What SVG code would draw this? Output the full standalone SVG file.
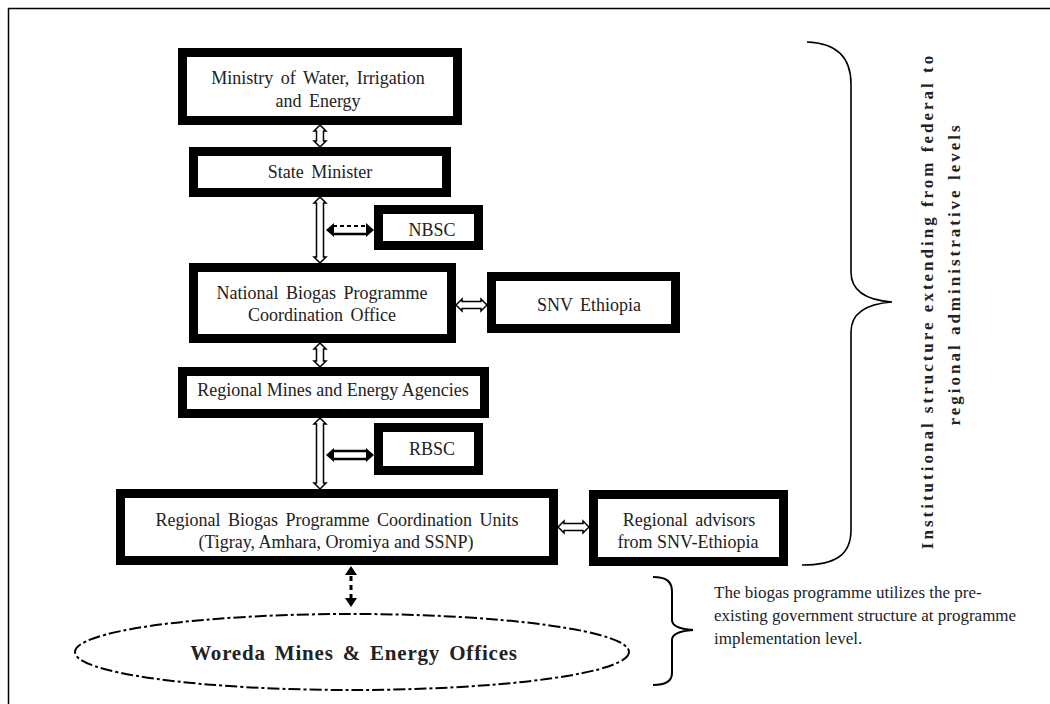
<svg xmlns="http://www.w3.org/2000/svg" width="1050" height="704" viewBox="0 0 1050 704">
<style>
.box{fill:#fff;stroke:#000;stroke-width:9}
.t{font-family:"Liberation Serif","Times New Roman",serif;font-size:18px;fill:#222;text-anchor:middle;word-spacing:3px}
.tb{font-family:"Liberation Serif","Times New Roman",serif;font-weight:bold;fill:#222;text-anchor:middle}
.side{font-family:"Liberation Serif","Times New Roman",serif;font-size:17px;fill:#222}
.ha{fill:#fff;stroke:#000;stroke-width:1.5}
.ln{stroke:#000;fill:none}
.head{fill:#000}
</style>
<rect width="1050" height="704" fill="#fff"/>
<path d="M8.5,704 V8.5 H1050" class="ln" stroke-width="1.5" stroke="#444"/>

<g id="ministry"><rect class="box" x="182.5" y="52.5" width="275" height="68"/>
<text class="t" x="318" y="84">Ministry of Water, Irrigation</text>
<text class="t" x="318" y="107">and Energy</text></g>

<g id="state-minister"><rect class="box" x="193.5" y="151.5" width="253" height="41"/>
<text class="t" x="320" y="178">State Minister</text></g>

<g id="nbsc"><rect class="box" x="378.5" y="209.5" width="100" height="36"/>
<text class="t" x="432" y="236">NBSC</text></g>

<g id="national"><rect class="box" x="193.5" y="267.5" width="258" height="71"/>
<text class="t" x="322" y="299">National Biogas Programme</text>
<text class="t" x="322" y="321">Coordination Office</text></g>

<g id="snv"><rect class="box" x="491.5" y="276.5" width="184" height="52"/>
<text class="t" x="589" y="311">SNV Ethiopia</text></g>

<g id="regional-mines"><rect class="box" x="182.5" y="371.5" width="302" height="42"/>
<text class="t" x="333" y="396" style="word-spacing:0">Regional Mines and Energy Agencies</text></g>

<g id="rbsc"><rect class="box" x="378.5" y="427.5" width="100" height="43"/>
<text class="t" x="432" y="455">RBSC</text></g>

<g id="regional-biogas"><rect class="box" x="120.5" y="493.5" width="433" height="67"/>
<text class="t" x="337" y="526">Regional Biogas Programme Coordination Units</text>
<text class="t" x="336" y="548" style="word-spacing:0">(Tigray, Amhara, Oromiya and SSNP)</text></g>

<g id="regional-advisors"><rect class="box" x="593.5" y="494.5" width="190" height="67"/>
<text class="t" x="689" y="526">Regional advisors</text>
<text class="t" x="688" y="548" style="word-spacing:0">from SNV-Ethiopia</text></g>

<g id="woreda"><ellipse cx="352" cy="652" rx="277" ry="38" fill="#fff" stroke="#000" stroke-width="2" stroke-dasharray="12 3 3 3"/>
<text class="tb" x="354" y="660" font-size="21" letter-spacing="0.8" word-spacing="3">Woreda Mines &amp; Energy Offices</text></g>

<g id="connectors">
<path class="ha" d="M320,125 l6,6 h-2.5 v10 h2.5 l-6,6 l-6,-6 h2.5 v-10 h-2.5 z"/>
<path class="ha" d="M320,197 l6,6 h-2.5 v54 h2.5 l-6,6 l-6,-6 h2.5 v-54 h-2.5 z"/>
<path class="ha" d="M320,343 l6,6 h-2.5 v12 h2.5 l-6,6 l-6,-6 h2.5 v-12 h-2.5 z"/>
<path class="ha" d="M320,418 l6,6 h-2.5 v59 h2.5 l-6,6 l-6,-6 h2.5 v-59 h-2.5 z"/>
<path class="ha" d="M456,305 l6,-6 v2.5 h19 v-2.5 l6,6 l-6,6 v-2.5 h-19 v2.5 z"/>
<path class="ha" d="M558,527 l6,-6 v2.5 h19 v-2.5 l6,6 l-6,6 v-2.5 h-19 v2.5 z"/>
<line class="ln" x1="333" y1="226" x2="368" y2="226" stroke-width="2" stroke-dasharray="4 3"/>
<line class="ln" x1="333" y1="234" x2="368" y2="234" stroke-width="2.5"/>
<path class="head" d="M326,230 l8,-7 v14 z M374,230 l-8,-7 v14 z"/>
<line class="ln" x1="333" y1="451" x2="368" y2="451" stroke-width="2.5"/>
<line class="ln" x1="333" y1="459" x2="368" y2="459" stroke-width="2.5"/>
<path class="head" d="M326,455 l8,-7 v14 z M374,455 l-8,-7 v14 z"/>
<line class="ln" x1="351" y1="576" x2="351" y2="598" stroke-width="3" stroke-dasharray="5 4"/>
<path class="head" d="M351,566 l-6,9 h12 z M351,607 l-6,-9 h12 z"/>
</g>

<g id="brace-institutional">
<path class="ln" stroke-width="1.6" d="M807,42 C836,43 851,56 851,84 L851,272 C851,290 864,300 892,302 C864,304 851,314 851,332 L851,530 C851,556 834,565 802,565"/>
<text class="tb" font-size="17" letter-spacing="3" transform="translate(933,301) rotate(-90)">Institutional structure extending from federal to</text>
<text class="tb" font-size="17" letter-spacing="3" transform="translate(960,274) rotate(-90)">regional administrative levels</text>
</g>

<g id="brace-woreda">
<path class="ln" stroke-width="2" d="M653,577 C666,577 672,581 672,592 L672,620 C672,626 679,629 693,630 C679,631 672,634 672,640 L672,673 C672,681 666,685 653,685"/>
<text class="side" x="714" y="598">The biogas programme utilizes the pre-</text>
<text class="side" x="714" y="621">existing government structure at programme</text>
<text class="side" x="714" y="644">implementation level.</text>
</g>
</svg>
